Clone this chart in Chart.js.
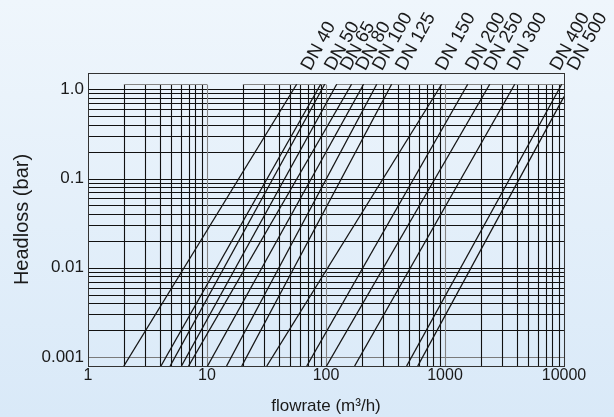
<!DOCTYPE html>
<html><head><meta charset="utf-8">
<script src="https://cdn.jsdelivr.net/npm/chart.js@4/dist/chart.umd.min.js"></script>
<style>
html,body{margin:0;padding:0;width:614px;height:417px;overflow:hidden;background:linear-gradient(180deg,#eff6fc 0%,#d9e9f8 100%);}
#wrap{position:relative;width:614px;height:417px;}
</style></head><body>
<div id="wrap"><canvas id="c" width="614" height="417"></canvas></div>
<script>
// ---- data ----
const xTickValues = [1, 10, 100, 1000, 10000];
const yTickValues = [0.001, 0.01, 0.1, 1];
const yTickLabels = ['0.001', '0.01', '0.1', '1.0'];
const xMin = 1, xMax = 10000;
const yMin = 0.000793, yMax = 1.523;
const gridTopHead = 1.14;
// each headloss line: flow at the bottom edge, flow at its upper end, head at its upper end
const lineStartFlow = [2.0, 4.1, 4.9, 6.1, 7.0, 10.1, 14.6, 19.6, 31.8, 68.9, 101, 174, 476, 590];
const lineEndFlow   = [56.7, 90.2, 97.5, 123, 164, 207, 267, 356, 938, 1552, 2376, 3855, 9565, 10000];
const lineEndHead   = [1.14, 1.14, 1.14, 1.14, 1.14, 1.14, 1.14, 1.14, 1.14, 1.14, 1.14, 1.14, 1.14, 0.83];
const dnLabels   = ['DN 40','DN 50','DN 65','DN 80','DN 100','DN 125','DN 150','DN 200','DN 250','DN 300','DN 400','DN 500'];
const dnLabelFlow = [74, 117, 158, 214, 296, 462, 1000, 1790, 2550, 4000, 9150, 12800];
// top connector segments of the grid (flow from, flow to)
const topSegFrom = [2, 20, 122];
const topSegTo   = [10, 100, 10000];

// standard log grid values
const xGrid = [], yGrid = [];
for (let d = 1; d <= 1000; d *= 10) for (let m = 2; m <= 10; m++) xGrid.push(m * d);
for (let d = 0.001; d < 1; d *= 10) for (let m = 1; m <= 9; m++) yGrid.push(+(m * d).toPrecision(3));
yGrid.push(1);

const datasets = lineStartFlow.map((q0, i) => ({
  data: [{x: q0, y: yMin}, {x: lineEndFlow[i], y: lineEndHead[i]}],
  showLine: true, borderColor: '#151515', borderWidth: 1.3, pointRadius: 0, fill: false
}));

const FONT = '"Liberation Sans", Arial, Helvetica, sans-serif';

const gridPlugin = {
  id: 'loggrid',
  beforeDatasetsDraw(chart) {
    const {ctx, chartArea: a, scales: {x, y}} = chart;
    ctx.save();
    ctx.lineWidth = 1.1;
    const yTop = Math.round(y.getPixelForValue(gridTopHead)) + 0.5;
    yGrid.forEach(h => {
      const p = Math.round(y.getPixelForValue(h)) + 0.5;
      ctx.strokeStyle = (Math.abs(h - 0.001) < 1e-9) ? '#7a7a7a' : '#111';
      ctx.beginPath(); ctx.moveTo(a.left, p); ctx.lineTo(a.right, p); ctx.stroke();
    });
    xGrid.forEach(q => {
      const p = Math.round(x.getPixelForValue(q)) + 0.5;
      const dec = Math.abs(Math.log10(q) - Math.round(Math.log10(q))) < 1e-9;
      ctx.strokeStyle = dec ? '#858585' : '#111';
      ctx.beginPath(); ctx.moveTo(p, a.bottom); ctx.lineTo(p, yTop); ctx.stroke();
    });
    ctx.strokeStyle = '#858585';
    topSegFrom.forEach((q, i) => {
      ctx.beginPath();
      ctx.moveTo(x.getPixelForValue(q), yTop); ctx.lineTo(x.getPixelForValue(topSegTo[i]), yTop); ctx.stroke();
    });
    ctx.restore();
  },
  afterDraw(chart) {
    const {ctx, chartArea: a, scales: {x}} = chart;
    ctx.save();
    ctx.strokeStyle = '#333';
    ctx.lineWidth = 1;
    ctx.strokeRect(Math.round(a.left) + 0.5, Math.round(a.top) + 0.5, Math.round(a.right - a.left), Math.round(a.bottom - a.top));
    ctx.fillStyle = '#1a1a1a';
    ctx.font = '18.5px ' + FONT;
    ctx.textAlign = 'left';
    ctx.textBaseline = 'alphabetic';
    dnLabels.forEach((t, i) => {
      const px = x.getPixelForValue(dnLabelFlow[i]);
      ctx.save();
      ctx.translate(px, a.top - 1.5);
      ctx.rotate(-61 * Math.PI / 180);
      ctx.fillText(t, 0, 0);
      ctx.restore();
    });
    ctx.restore();
  }
};

new Chart(document.getElementById('c'), {
  type: 'scatter',
  data: {datasets},
  options: {
    responsive: false, animation: false, devicePixelRatio: 1,
    layout: {padding: {left: 0, top: 73, right: 50, bottom: 0}},
    plugins: {legend: {display: false}, tooltip: {enabled: false}},
    scales: {
      x: {
        type: 'logarithmic', min: xMin, max: xMax,
        grid: {display: false, drawTicks: false}, border: {display: false},
        afterBuildTicks: s => { s.ticks = xTickValues.map(v => ({value: v})); },
        afterFit: s => { s.height = 51; },
        ticks: {autoSkip: false, maxRotation: 0, padding: 0, color: '#1a1a1a',
          font: {family: FONT, size: 16}, callback: v => String(v)},
        title: {display: true, text: 'flowrate (m³/h)', color: '#1a1a1a',
          font: {family: FONT, size: 17}, padding: {top: 0, bottom: 0}}
      },
      y: {
        type: 'logarithmic', min: yMin, max: yMax,
        grid: {display: false, drawTicks: false}, border: {display: false},
        afterBuildTicks: s => { s.ticks = yTickValues.map(v => ({value: v})); },
        afterFit: s => { s.width = 88; },
        ticks: {autoSkip: false, padding: 4, color: '#1a1a1a',
          font: {family: FONT, size: 17},
          callback: v => { const i = yTickValues.findIndex(t => Math.abs(t - v) / t < 1e-6); return i >= 0 ? yTickLabels[i] : ''; }},
        title: {display: true, text: 'Headloss (bar)', color: '#1a1a1a',
          font: {family: FONT, size: 20}, padding: {top: 10, bottom: 0}}
      }
    }
  },
  plugins: [gridPlugin]
});
</script>
</body></html>
